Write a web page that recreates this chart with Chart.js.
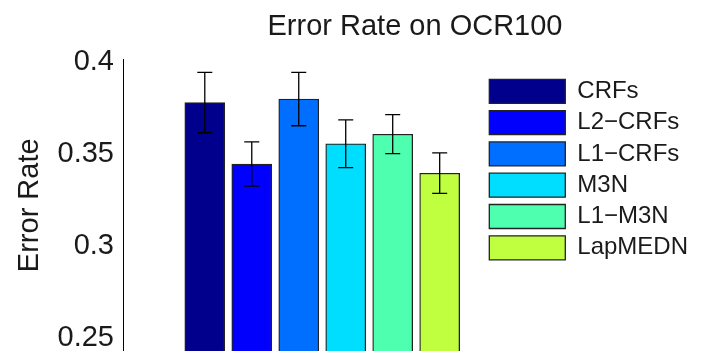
<!DOCTYPE html>
<html>
<head>
<meta charset="utf-8">
<script src="https://cdn.jsdelivr.net/npm/chart.js@4.4.0/dist/chart.umd.min.js"></script>
<style>
  html, body { margin: 0; padding: 0; background: #fff; }
</style>
</head>
<body>
<canvas id="chart" width="702" height="351"></canvas>
<script>
const methods = ['CRFs', 'L2−CRFs', 'L1−CRFs', 'M3N', 'L1−M3N', 'LapMEDN'];
const errorRates = [0.3766, 0.3432, 0.3785, 0.3542, 0.3594, 0.3382];
const errorBars = [0.0164, 0.012, 0.0145, 0.013, 0.0106, 0.011];
const yTicks = [0.25, 0.3, 0.35, 0.4];
const barColors = ['#00008c', '#0000fc', '#006eff', '#00deff', '#4fffb0', '#bfff40'];

const textColor = '#1a1a1a';
Chart.defaults.font.family = '"Liberation Sans", Arial, sans-serif';

// error bars, drawn through the y scale
const errorBarPlugin = {
    id: 'errorBars',
    afterDatasetsDraw(chart) {
        const ctx = chart.ctx;
        const yScale = chart.scales.y;
        ctx.save();
        ctx.strokeStyle = '#000';
        ctx.lineWidth = 1.3;
        chart.data.datasets.forEach((ds, i) => {
            const x = chart.getDatasetMeta(i).data[0].x;
            const top = yScale.getPixelForValue(errorRates[i] + errorBars[i]);
            const bottom = yScale.getPixelForValue(errorRates[i] - errorBars[i]);
            ctx.beginPath();
            ctx.moveTo(x, top); ctx.lineTo(x, bottom);
            ctx.moveTo(x - 7.5, top); ctx.lineTo(x + 7.5, top);
            ctx.moveTo(x - 7.5, bottom); ctx.lineTo(x + 7.5, bottom);
            ctx.stroke();
        });
        ctx.restore();
    }
};

// title centred over the axes box, legend moved inside it (matlab style)
const placeBoxes = {
    id: 'placeBoxes',
    afterLayout(chart) {
        chart.titleBlock.left = chart.chartArea.left;
        chart.titleBlock.right = 707;
        chart.legend.left = 482;
        chart.legend.top = 72;
    }
};

const datasets = methods.map((name, i) => ({
    label: name,
    data: [{ x: i + 1, y: errorRates[i] }],
    backgroundColor: barColors[i],
    borderColor: '#222',
    borderWidth: 1.3,
    borderSkipped: false,
    barThickness: 40,
    grouped: false
}));

new Chart(document.getElementById('chart'), {
    type: 'bar',
    data: { datasets },
    plugins: [errorBarPlugin, placeBoxes],
    options: {
        responsive: false,
        animation: false,
        layout: { padding: 0 },
        scales: {
            x: { type: 'linear', min: -0.741, max: 7.848, offset: false, display: false },
            y: {
                min: 0.24158,
                max: 0.4,
                grid: { display: false, drawTicks: false },
                border: { display: true, color: '#000', width: 1 },
                ticks: {
                    color: textColor,
                    font: { size: 29 },
                    padding: 9,
                    labelOffset: 2.5,
                    callback: v => String(v)
                },
                afterBuildTicks: s => { s.ticks = yTicks.map(v => ({ value: v })); },
                afterFit: s => { s.width = 123; s.paddingTop = 0; s.paddingBottom = 0; },
                title: {
                    display: true,
                    text: 'Error Rate',
                    color: textColor,
                    font: { size: 29 },
                    padding: { top: 12.3, bottom: 0 }
                }
            }
        },
        plugins: {
            title: {
                display: true,
                text: 'Error Rate on OCR100',
                color: textColor,
                font: { size: 29, weight: 'normal' },
                padding: { top: 9.8, bottom: 14.9 }
            },
            legend: {
                position: 'right',
                align: 'start',
                labels: {
                    boxWidth: 76,
                    boxHeight: 24,
                    padding: 7.3,
                    color: textColor,
                    font: { size: 24 }
                }
            },
            tooltip: { enabled: false }
        }
    }
});
</script>
</body>
</html>
